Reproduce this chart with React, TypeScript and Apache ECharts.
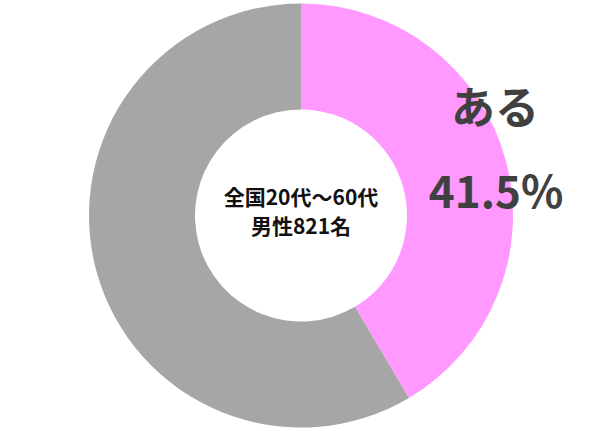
import React, { useEffect, useRef } from 'react';
import * as echarts from 'echarts';

const categories = ['ある', 'ない'];
const values = [41.5, 58.5];
const colors = ['#ff99ff', '#a6a6a6'];
const centerLines = ['全国20代～60代', '男性821名'];

export default function App() {
  const chartRef = useRef<HTMLDivElement>(null);

  useEffect(() => {
    if (!chartRef.current) return;
    document.body.style.margin = '0';

    const myChart = echarts.init(chartRef.current, null, { renderer: 'svg' });

    const font = '"Noto Sans CJK JP", "Noto Sans", sans-serif';

    const option = {
      animation: false,
      backgroundColor: '#ffffff',
      graphic: [
        {
          type: 'text',
          z: 100,
          x: 301,
          y: 210,
          style: {
            text: centerLines.join('\n'),
            fontFamily: font,
            fontWeight: 'bold',
            fontSize: 21,
            fill: '#111111',
            align: 'center',
            verticalAlign: 'middle',
            lineHeight: 29
          }
        },
        {
          type: 'text',
          z: 100,
          x: 495,
          y: 105,
          style: {
            text: categories[0],
            fontFamily: font,
            fontWeight: 'bold',
            fontSize: 44,
            fill: '#404040',
            align: 'center',
            verticalAlign: 'middle'
          }
        },
        {
          type: 'text',
          z: 100,
          x: 496,
          y: 189,
          style: {
            text: `${values[0]}%`,
            fontFamily: font,
            fontWeight: 'bold',
            fontSize: 44,
            fill: '#404040',
            align: 'center',
            verticalAlign: 'middle'
          }
        }
      ],
      series: [
        {
          type: 'pie',
          center: [301, 215.5],
          radius: [106, 212],
          startAngle: 90,
          clockwise: true,
          silent: true,
          labelLine: { show: false },
          label: { show: false },
          data: categories.map((name, i) => ({
            name,
            value: values[i],
            itemStyle: { color: colors[i] }
          }))
        }
      ]
    };

    myChart.setOption(option);

    return () => {
      myChart.dispose();
    };
  }, []);

  return <div ref={chartRef} style={{ width: '600px', height: '431px' }} />;
}
